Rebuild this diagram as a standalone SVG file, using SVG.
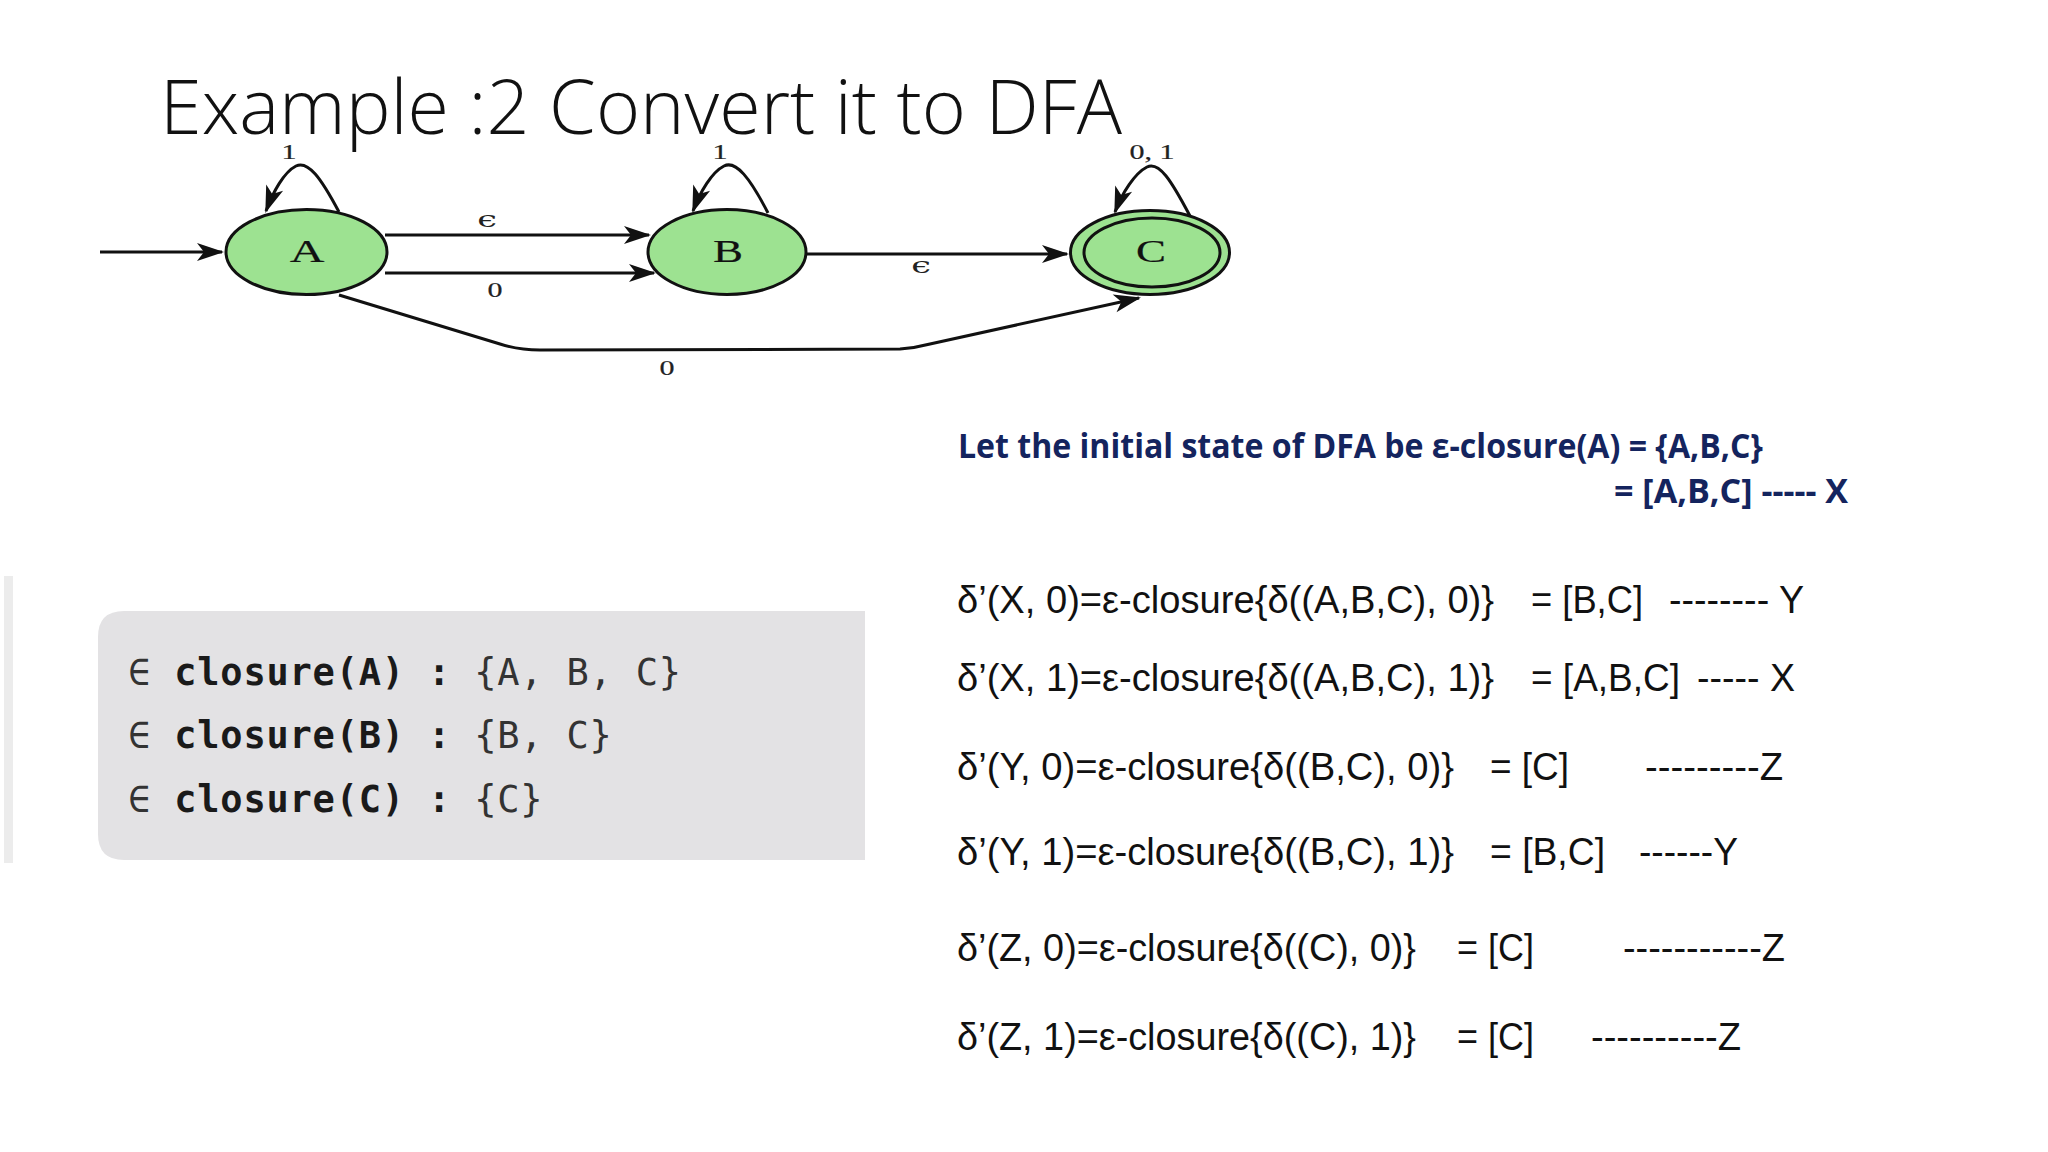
<svg xmlns="http://www.w3.org/2000/svg" width="2048" height="1152" viewBox="0 0 2048 1152">
<defs>
<style>
.node{fill:#9de291;stroke:#111;stroke-width:3}
.edge{fill:none;stroke:#111;stroke-width:3;marker-end:url(#arr)}
.nl{font-family:"Liberation Serif","DejaVu Serif",serif;font-size:31px;fill:#111;stroke:#111;stroke-width:0.2;text-anchor:middle}
.el{font-family:"Liberation Serif","DejaVu Serif",serif;font-size:20px;fill:#222;stroke:#222;stroke-width:0.2;text-anchor:middle}
.ep{font-family:"DejaVu Serif","Liberation Serif",serif;font-size:22px;fill:#222;text-anchor:middle}
.mono{font-family:"DejaVu Sans Mono","Liberation Mono",monospace;font-size:37px;letter-spacing:0.8px;fill:#333}
.b{font-weight:bold;fill:#1a1a1a}
.blue{font-family:"Open Sans","Liberation Sans",sans-serif;font-weight:bold;font-size:34px;fill:#14245e}
.d{font-family:"Liberation Sans",Arial,sans-serif;font-size:38px;fill:#111}
</style>
<marker id="arr" markerUnits="userSpaceOnUse" markerWidth="34" markerHeight="24" viewBox="-30 -12 34 24" refX="0" refY="0" orient="auto">
<path d="M2,0 L-25,-9 L-18,0 L-25,9 Z" fill="#111"/>
</marker>
</defs>
<rect width="2048" height="1152" fill="#ffffff"/>

<text x="160" y="134" font-family="Open Sans, Liberation Sans, sans-serif" font-weight="300" font-size="75" fill="#111" textLength="962" lengthAdjust="spacingAndGlyphs">Example :2 Convert it to DFA</text>

<g id="connectors">
<path class="edge" d="M100 252 L222 252"/>
<path class="edge" d="M385 235 L649 235"/>
<path class="edge" d="M385 273 L654 273"/>
<path class="edge" d="M806 254 L1067 254"/>
<path class="edge" d="M339 295 L500 344 Q518 350 540 350 L900 349 Q915 348 930 344 L1139 298"/>
<path class="edge" d="M339 212 C321 178 308 160 296 166 C284 172 273 192 266 211"/>
<path class="edge" d="M768 213 C750 178 736 160 724 166 C712 172 700 192 693 211"/>
<path class="edge" d="M1190 216 C1171 180 1159 161 1147 167 C1135 173 1122 193 1115 212"/>
</g>
<text class="el" transform="translate(289 159) scale(1.5 1)">1</text>
<text class="el" transform="translate(720 159) scale(1.5 1)">1</text>
<text class="el" transform="translate(1152 159) scale(1.5 1)">0, 1</text>
<text class="ep" transform="translate(487 227) scale(1.6 1)">ϵ</text>
<text class="el" transform="translate(495 297) scale(1.5 1)">0</text>
<text class="ep" transform="translate(921 273) scale(1.6 1)">ϵ</text>
<text class="el" transform="translate(667 375) scale(1.5 1)">0</text>

<g id="node-A">
<ellipse class="node" cx="306.5" cy="252" rx="80.5" ry="42.5"/>
<text class="nl" transform="translate(307 262) scale(1.55 1)">A</text>
</g>
<g id="node-B">
<ellipse class="node" cx="727" cy="252" rx="79" ry="42.5"/>
<text class="nl" transform="translate(728 262) scale(1.45 1)">B</text>
</g>
<g id="node-C">
<ellipse class="node" cx="1150" cy="252.5" rx="79.5" ry="42"/>
<ellipse class="node" cx="1152" cy="252.5" rx="68" ry="34.5"/>
<text class="nl" transform="translate(1151 262) scale(1.45 1)">C</text>
</g>

<g id="closure-box">
<rect x="4" y="576" width="9" height="287" fill="#ececec"/>
<path d="M865 611 L124 611 Q98 611 98 637 L98 834 Q98 860 124 860 L865 860 Z" fill="#e3e2e4"/>
<text class="mono" x="128" y="685"><tspan>∈ </tspan><tspan class="b">closure(A) :</tspan><tspan> {A, B, C}</tspan></text>
<text class="mono" x="128" y="748"><tspan>∈ </tspan><tspan class="b">closure(B) :</tspan><tspan> {B, C}</tspan></text>
<text class="mono" x="128" y="812"><tspan>∈ </tspan><tspan class="b">closure(C) :</tspan><tspan> {C}</tspan></text>
</g>

<g id="initial-state">
<text class="blue" x="958" y="458" textLength="805" lengthAdjust="spacingAndGlyphs">Let the initial state of DFA be ε-closure(A) = {A,B,C}</text>
<text class="blue" x="1614" y="503" textLength="234" lengthAdjust="spacingAndGlyphs">= [A,B,C] ----- X</text>
</g>

<g id="transitions">
<text class="d" x="957" y="613" textLength="537" lengthAdjust="spacingAndGlyphs">δ’(X, 0)=ε-closure{δ((A,B,C), 0)}</text>
<text class="d" x="1531" y="613" textLength="112" lengthAdjust="spacingAndGlyphs">= [B,C]</text>
<text class="d" x="1669" y="613" textLength="135" lengthAdjust="spacingAndGlyphs">-------- Y</text>

<text class="d" x="957" y="691" textLength="537" lengthAdjust="spacingAndGlyphs">δ’(X, 1)=ε-closure{δ((A,B,C), 1)}</text>
<text class="d" x="1531" y="691" textLength="149" lengthAdjust="spacingAndGlyphs">= [A,B,C]</text>
<text class="d" x="1697" y="691" textLength="98" lengthAdjust="spacingAndGlyphs">----- X</text>

<text class="d" x="957" y="780" textLength="497" lengthAdjust="spacingAndGlyphs">δ’(Y, 0)=ε-closure{δ((B,C), 0)}</text>
<text class="d" x="1490" y="780" textLength="79" lengthAdjust="spacingAndGlyphs">= [C]</text>
<text class="d" x="1645" y="780" textLength="138" lengthAdjust="spacingAndGlyphs">---------Z</text>

<text class="d" x="957" y="865" textLength="497" lengthAdjust="spacingAndGlyphs">δ’(Y, 1)=ε-closure{δ((B,C), 1)}</text>
<text class="d" x="1490" y="865" textLength="115" lengthAdjust="spacingAndGlyphs">= [B,C]</text>
<text class="d" x="1639" y="865" textLength="99" lengthAdjust="spacingAndGlyphs">------Y</text>

<text class="d" x="957" y="961" textLength="459" lengthAdjust="spacingAndGlyphs">δ’(Z, 0)=ε-closure{δ((C), 0)}</text>
<text class="d" x="1457" y="961" textLength="77" lengthAdjust="spacingAndGlyphs">= [C]</text>
<text class="d" x="1623" y="961" textLength="162" lengthAdjust="spacingAndGlyphs">-----------Z</text>

<text class="d" x="957" y="1050" textLength="459" lengthAdjust="spacingAndGlyphs">δ’(Z, 1)=ε-closure{δ((C), 1)}</text>
<text class="d" x="1457" y="1050" textLength="77" lengthAdjust="spacingAndGlyphs">= [C]</text>
<text class="d" x="1591" y="1050" textLength="150" lengthAdjust="spacingAndGlyphs">----------Z</text>
</g>
</svg>
